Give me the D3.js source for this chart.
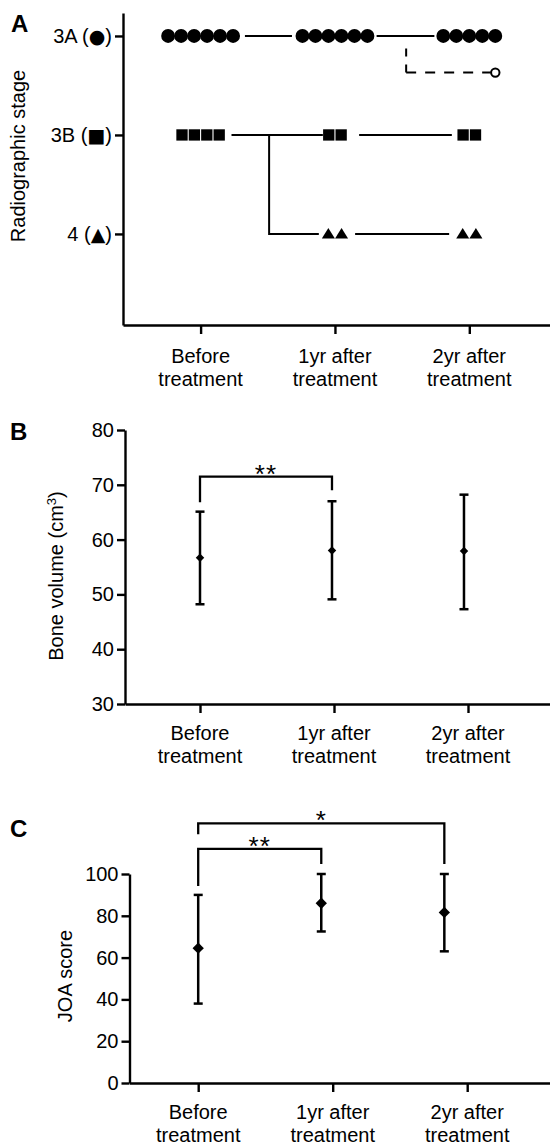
<!DOCTYPE html>
<html>
<head>
<meta charset="utf-8">
<script src="https://cdn.jsdelivr.net/npm/d3@7"></script>
<style>
  body { margin: 0; background: #fff; }
  svg text { font-family: "Liberation Sans", Arial, Helvetica, sans-serif; fill: #000; }
</style>
</head>
<body>
<svg id="chart" width="550" height="1144"></svg>
<script>
const categories = [['Before', 'treatment'], ['1yr after', 'treatment'], ['2yr after', 'treatment']];

// Panel A: patients per radiographic stage at each time point
const stageNames = ['3A', '3B', '4'];
const stageSymbols = ['●', '■', '▲'];
const stage3A = [6, 6, 5];
const stage3B = [4, 2, 2];
const stage4 = [0, 2, 2];
// one patient drifting off 3A at 2 years (open circle), stage units
const openPoint = { cat: 2, stage: 0.37, slot: 4, of: 5 };
// connecting lines (x in category units, y in stage units)
const stageLinks = [
  { stage: 0, x0: 0.33, x1: 0.68 },
  { stage: 0, x0: 1.31, x1: 1.74 },
  { stage: 1, x0: 0.23, x1: 0.91 },
  { stage: 1, x0: 1.18, x1: 1.87 },
  { stage: 2, x0: 1.15, x1: 1.85 }
];
const stageBranch = { x: 0.51, from: 1, to: 2, x1: 0.88 };
const dashedBranch = { x: 1.53, from: 0.12, to: 0.37, x1: 2.16 };

// Panel B: bone volume (cm3), mean with range
const boneMean = [56.7, 58.0, 57.9];
const boneUpper = [65.1, 67.0, 68.2];
const boneLower = [48.2, 49.1, 47.3];
const boneTicks = [30, 40, 50, 60, 70, 80];
const boneSig = [{ a: 0, b: 1, top: 71.5, legA: 66.8, legB: 69.0, label: '**' }];

// Panel C: JOA score
const joaMean = [64.5, 86.0, 81.6];
const joaUpper = [90, 100, 100];
const joaLower = [38, 72.5, 63];
const joaTicks = [0, 20, 40, 60, 80, 100];
const joaSig = [
  { a: 0, b: 1, top: 112, legA: 94.3, legB: 104.8, label: '**' },
  { a: 0, b: 2, top: 124.2, legA: 119, legB: 104.8, label: '*' }
];

const W = 550;
const AXIS_W = 2.4;
const svg = d3.select('#chart');
svg.append('rect').attr('width', W).attr('height', 1144).attr('fill', '#fff');

// category x scale whose domain starts at the y axis and runs to the right edge
function catScale(left, tick0, step) {
  return d3.scaleLinear()
    .domain([(left - tick0) / step, (W - tick0) / step])
    .range([left, W]);
}

function styleAxis(g) {
  g.selectAll('path.domain').attr('stroke', '#000').attr('stroke-width', AXIS_W);
  g.selectAll('.tick line').attr('stroke', '#000').attr('stroke-width', AXIS_W);
  g.selectAll('.tick text').attr('font-size', 20).attr('fill', '#000')
    .style('font-family', '"Liberation Sans", Arial, sans-serif');
}

function drawXAxis(x, yPos, dy) {
  const g = svg.append('g')
    .attr('transform', `translate(0,${yPos})`)
    .call(d3.axisBottom(x).tickValues([0, 1, 2]).tickSize(9).tickSizeOuter(0).tickFormat(''));
  styleAxis(g);
  const labels = svg.append('g').selectAll('text')
    .data(categories)
    .join('text')
    .attr('x', (d, i) => x(i))
    .attr('y', yPos + dy)
    .attr('text-anchor', 'middle')
    .attr('font-size', 20);
  labels.selectAll('tspan')
    .data(d => d)
    .join('tspan')
    .attr('x', function () { return d3.select(this.parentNode).attr('x'); })
    .attr('dy', (d, i) => (i === 0 ? 0 : 23))
    .text(d => d);
}

function panelLetter(t, x, y) {
  svg.append('text').attr('x', x).attr('y', y)
    .attr('font-size', 24).attr('font-weight', 'bold').text(t);
}

function yTitle(x, y, build) {
  const t = svg.append('text')
    .attr('transform', `translate(${x},${y}) rotate(-90)`)
    .attr('text-anchor', 'middle')
    .attr('font-size', 20);
  build(t);
}

// ---------- Panel A ----------
{
  const x = catScale(123, 200.6, 134.35);
  const y = d3.scaleLinear().domain([-0.232, 2.92]).range([13, 325]);

  const gy = svg.append('g')
    .attr('transform', `translate(${x.range()[0]},0)`)
    .call(d3.axisLeft(y).tickValues([0, 1, 2]).tickSize(8).tickPadding(3).tickSizeOuter(0));
  styleAxis(gy);
  gy.selectAll('.tick text').each(function (d) {
    const t = d3.select(this).text(null);
    t.append('tspan').text(stageNames[d] + ' (');
    t.append('tspan').style('font-family', '"DejaVu Sans", sans-serif').attr('font-size', 19)
      .text(stageSymbols[d]);
    t.append('tspan').text(')');
  });
  drawXAxis(x, y.range()[1], 38);

  panelLetter('A', 11, 32);
  yTitle(24.5, 156, t => t.text('Radiographic stage'));

  const rows = [
    { counts: stage3A, shape: d3.symbol(d3.symbolCircle, 150), step: 13 },
    { counts: stage3B, shape: d3.symbol(d3.symbolSquare, 128), step: 12.4 },
    { counts: stage4, shape: () => 'M-6.5,4.6L6.5,4.6L0,-6Z', step: 13.2 }
  ];
  const pts = [];
  rows.forEach((r, si) => {
    r.counts.forEach((n, ci) => {
      for (let k = 0; k < n; k++) {
        pts.push({ si, ci, off: (k - (n - 1) / 2) * r.step });
      }
    });
  });

  svg.append('g').selectAll('line')
    .data(stageLinks)
    .join('line')
    .attr('x1', d => x(d.x0)).attr('x2', d => x(d.x1))
    .attr('y1', d => y(d.stage)).attr('y2', d => y(d.stage))
    .attr('stroke', '#000').attr('stroke-width', 2);

  svg.append('path')
    .attr('d', `M${x(stageBranch.x)},${y(stageBranch.from)}V${y(stageBranch.to)}H${x(stageBranch.x1)}`)
    .attr('fill', 'none').attr('stroke', '#000').attr('stroke-width', 2);

  // dashed branch drawn outward from its corner so the "L" keeps its corner
  const cx = x(dashedBranch.x), cy = y(dashedBranch.to);
  svg.append('path')
    .attr('d', `M${cx},${cy}V${y(dashedBranch.from)}`)
    .attr('fill', 'none').attr('stroke', '#000').attr('stroke-width', 2)
    .attr('stroke-dasharray', '8,8');
  svg.append('path')
    .attr('d', `M${cx},${cy}H${x(dashedBranch.x1)}`)
    .attr('fill', 'none').attr('stroke', '#000').attr('stroke-width', 2)
    .attr('stroke-dasharray', '10,9');

  svg.append('g').selectAll('path')
    .data(pts)
    .join('path')
    .attr('transform', d => `translate(${x(d.ci) + d.off},${y(d.si)})`)
    .attr('d', d => rows[d.si].shape())
    .attr('fill', '#000');

  const openX = x(openPoint.cat) + (openPoint.slot - (openPoint.of - 1) / 2) * rows[0].step;
  svg.append('circle')
    .attr('cx', openX).attr('cy', y(openPoint.stage)).attr('r', 4.2)
    .attr('fill', '#fff').attr('stroke', '#000').attr('stroke-width', 2);
}

// ---------- Panels B and C ----------
function errorPanel(cfg) {
  const x = catScale(cfg.left, cfg.tick0, cfg.step);
  const y = d3.scaleLinear().domain(cfg.domain).range(cfg.range);
  const px = i => x(i * cfg.spread);

  const gy = svg.append('g')
    .attr('transform', `translate(${cfg.left},0)`)
    .call(d3.axisLeft(y).tickValues(cfg.ticks).tickSize(8).tickPadding(3).tickSizeOuter(0));
  styleAxis(gy);
  drawXAxis(x, cfg.range[0], 35.5);

  const bars = cfg.mean.map((m, i) => ({ i, m, hi: cfg.upper[i], lo: cfg.lower[i] }));
  const g = svg.append('g').attr('stroke', '#000').attr('stroke-width', 2.5);
  g.selectAll('line.bar').data(bars).join('line').attr('class', 'bar')
    .attr('x1', d => px(d.i)).attr('x2', d => px(d.i))
    .attr('y1', d => y(d.lo)).attr('y2', d => y(d.hi));
  const caps = bars.flatMap(d => [{ i: d.i, v: d.hi }, { i: d.i, v: d.lo }]);
  g.selectAll('line.cap').data(caps).join('line').attr('class', 'cap')
    .attr('x1', d => px(d.i) - 4.5).attr('x2', d => px(d.i) + 4.5)
    .attr('y1', d => y(d.v)).attr('y2', d => y(d.v));
  svg.append('g').selectAll('path').data(bars).join('path')
    .attr('transform', d => `translate(${px(d.i)},${y(d.m)}) rotate(45)`)
    .attr('d', d3.symbol(d3.symbolSquare, cfg.diamond)())
    .attr('fill', '#000');

  const sg = svg.append('g');
  sg.selectAll('path').data(cfg.sig).join('path')
    .attr('d', d => `M${px(d.a)},${y(d.legA)}V${y(d.top)}H${px(d.b)}V${y(d.legB)}`)
    .attr('fill', 'none').attr('stroke', '#000').attr('stroke-width', 2.3);
  sg.selectAll('text').data(cfg.sig).join('text')
    .attr('x', d => (px(d.a) + px(d.b)) / 2)
    .attr('y', d => y(d.top) + 6)
    .attr('text-anchor', 'middle')
    .attr('font-size', 26)
    .attr('letter-spacing', 1)
    .text(d => d.label);
}

errorPanel({
  left: 125, tick0: 200, step: 134, spread: 0.985,
  domain: [30, 80], range: [704, 430], ticks: boneTicks,
  mean: boneMean, upper: boneUpper, lower: boneLower, sig: boneSig, diamond: 36
});
panelLetter('B', 10, 440);
yTitle(63, 576, t => {
  t.append('tspan').text('Bone volume (cm');
  t.append('tspan').attr('font-size', 13).attr('dy', -7).text('3');
  t.append('tspan').attr('dy', 7).text(')');
});

errorPanel({
  left: 129.5, tick0: 198.2, step: 134.5, spread: 0.915,
  domain: [0, 100], range: [1083, 874], ticks: joaTicks,
  mean: joaMean, upper: joaUpper, lower: joaLower, sig: joaSig, diamond: 64
});
panelLetter('C', 10, 837);
yTitle(72, 976, t => t.text('JOA score'));
</script>
</body>
</html>
